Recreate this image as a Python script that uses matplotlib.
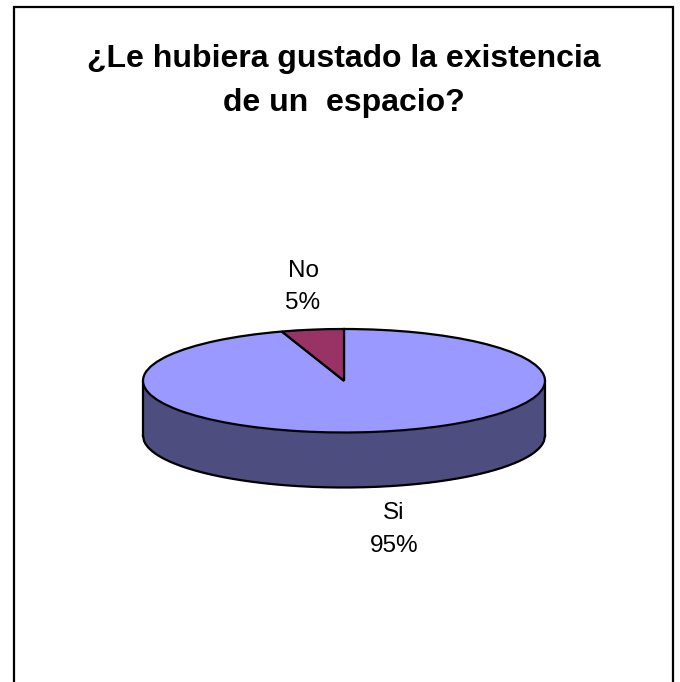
from matplotlib import pyplot as plt
import numpy as np

plt.rcParams['font.family'] = ['Liberation Sans', 'DejaVu Sans']

# datos de la encuesta
categorias = ['Si', 'No']
porcentajes = [95, 5]
colores = ['#9999FF', '#993366']
color_lateral = '#4D4D80'
titulo = '¿Le hubiera gustado la existencia\nde un  espacio?'

W, H = 680, 682
fig = plt.figure(figsize=(W / 100, H / 100), dpi=100, facecolor='white')

# marco exterior, abierto por abajo porque la imagen lo corta
fondo = fig.add_axes([0, 0, 1, 1])
fondo.set_xlim(0, W)
fondo.set_ylim(H, 0)
fondo.axis('off')
fondo.plot([13.5, 13.5, 673, 673], [H + 5, 6.5, 6.5, H + 5], color='black', lw=1.6, solid_joinstyle='miter')

# geometria de la torta en pixeles
izq, der = 143, 545
arriba, abajo = 329, 432.5
prof = 55
b = (abajo - arriba) / 2

ax = fig.add_axes([izq / W, 1 - (abajo + prof) / H, (der - izq) / W, (abajo + prof - arriba) / H])
ax.patch.set_alpha(0)

# lado del cilindro
t = np.linspace(-1, 1, 400)
borde = -np.sqrt(1 - t**2)
d = prof / b
ax.fill_between(t, borde, borde - d, color=color_lateral, lw=0, zorder=1)
ax.plot(t, borde - d, color='black', lw=1.6, zorder=2, clip_on=False)
ax.plot([-1, -1], [0, -d], color='black', lw=1.6, zorder=2, clip_on=False)
ax.plot([1, 1], [0, -d], color='black', lw=1.6, zorder=2, clip_on=False)

# cara superior
ax.pie(porcentajes, colors=colores, startangle=90, counterclock=False,
       wedgeprops={'edgecolor': 'black', 'linewidth': 1.6, 'zorder': 3})
ax.set_aspect('auto')
ax.set_xlim(-1, 1)
ax.set_ylim(-1 - d, 1)
for s in ax.patches:
    s.set_clip_on(False)

# textos
fondo.text(344, 81, titulo, ha='center', va='center', fontsize=23, fontweight='bold', linespacing=1.65, color='black')
fondo.text(394, 529.5, f'{categorias[0]}\n{porcentajes[0]}%', ha='center', va='center', fontsize=17.5, linespacing=1.62)
fondo.text(303, 287, f'{categorias[1]}\n{porcentajes[1]}%', ha='center', va='center', fontsize=17.5, linespacing=1.62)

plt.savefig('out.png', dpi=100)
